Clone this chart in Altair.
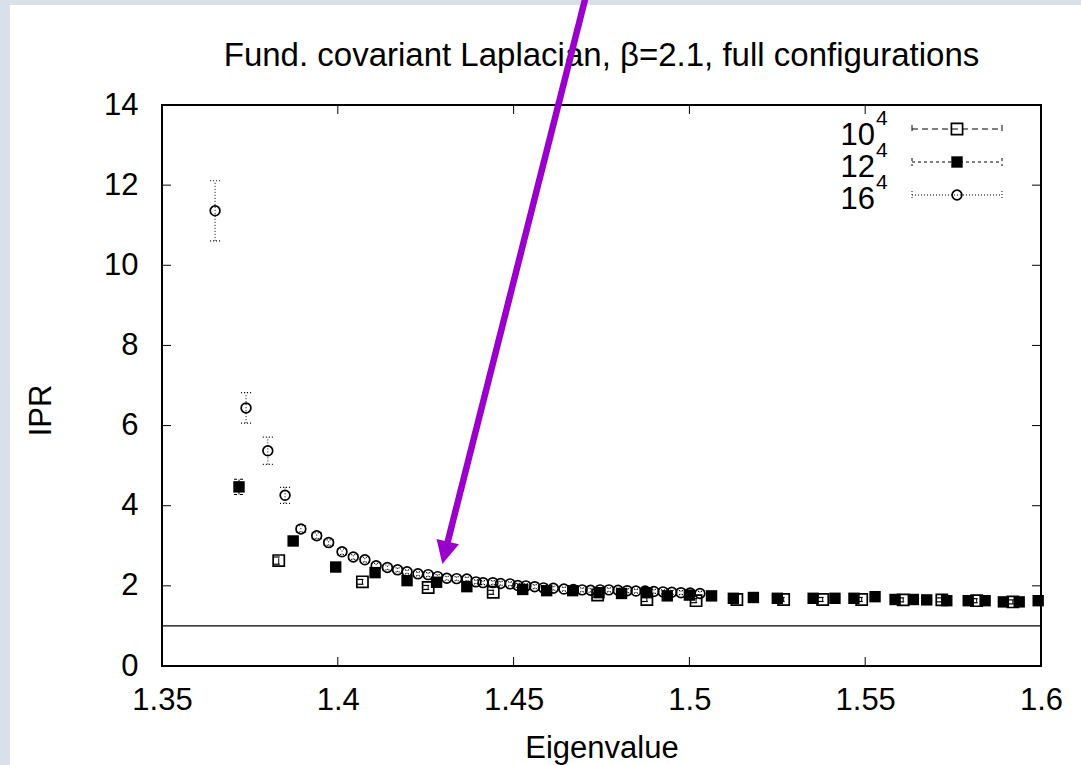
import altair as alt
import pandas as pd

FONT = "Liberation Sans"
INK = "black"
ARROW = "#9900cc"
W, H = 879, 561

# ---- measured inverse participation ratios -------------------------------
# 16^4 lattice
ev16 = [1.3651, 1.3739, 1.3801, 1.3850, 1.3895, 1.3940, 1.3974, 1.4012, 1.4044, 1.4077,
        1.4109, 1.4141, 1.4170, 1.4197, 1.4228, 1.4257, 1.4284, 1.4310, 1.4338, 1.4367,
        1.4393, 1.4413, 1.4441, 1.4463, 1.4490, 1.4512, 1.4535, 1.4560, 1.4585, 1.4613,
        1.4643, 1.4670, 1.4695, 1.4719, 1.4746, 1.4771, 1.4797, 1.4823, 1.4848, 1.4874,
        1.4899, 1.4925, 1.4950, 1.4976, 1.5002, 1.5030]
ipr16 = [11.36, 6.44, 5.37, 4.26, 3.42, 3.25, 3.08, 2.85, 2.72, 2.65,
         2.50, 2.46, 2.40, 2.35, 2.30, 2.28, 2.23, 2.19, 2.18, 2.17,
         2.10, 2.08, 2.08, 2.06, 2.05, 2.01, 2.00, 1.98, 1.95, 1.94,
         1.92, 1.91, 1.90, 1.89, 1.90, 1.90, 1.89, 1.88, 1.87, 1.87,
         1.86, 1.85, 1.84, 1.83, 1.82, 1.81]
err16 = [0.75, 0.38, 0.34, 0.20, 0.08, 0.07, 0.07, 0.07, 0.06, 0.06,
         0.06, 0.06, 0.05, 0.05, 0.05, 0.05, 0.05, 0.05, 0.05, 0.05,
         0.05, 0.05, 0.05, 0.05, 0.05, 0.05, 0.05, 0.05, 0.05, 0.05,
         0.05, 0.05, 0.05, 0.05, 0.05, 0.05, 0.05, 0.05, 0.05, 0.05,
         0.05, 0.05, 0.05, 0.05, 0.05, 0.05]

# 12^4 lattice
ev12 = [1.3719, 1.3873, 1.3994, 1.4106, 1.4197, 1.4281, 1.4367, 1.4526, 1.4594, 1.4668,
        1.4743, 1.4807, 1.4879, 1.4937, 1.5000, 1.5063, 1.5125, 1.5182, 1.5250, 1.5352,
        1.5414, 1.5468, 1.5528, 1.5585, 1.5637, 1.5675, 1.5732, 1.5793, 1.5841, 1.5893,
        1.5938, 1.5992]
ipr12 = [4.47, 3.12, 2.47, 2.33, 2.13, 2.09, 1.98, 1.91, 1.88, 1.88,
         1.83, 1.81, 1.83, 1.75, 1.77, 1.75, 1.69, 1.71, 1.69, 1.69,
         1.69, 1.69, 1.73, 1.66, 1.66, 1.65, 1.63, 1.63, 1.63, 1.60,
         1.60, 1.63]
err12 = [0.19, 0.07, 0.06, 0.06, 0.06, 0.06, 0.05, 0.05, 0.05, 0.05,
         0.05, 0.05, 0.05, 0.05, 0.05, 0.05, 0.05, 0.05, 0.05, 0.05,
         0.05, 0.05, 0.05, 0.05, 0.05, 0.05, 0.05, 0.05, 0.05, 0.05,
         0.05, 0.05]

# 10^4 lattice
ev10 = [1.3832, 1.4070, 1.4257, 1.4442, 1.4739, 1.4879, 1.5019, 1.5135, 1.5268, 1.5379,
        1.5490, 1.5608, 1.5718, 1.5817, 1.5920]
ipr10 = [2.63, 2.10, 1.96, 1.84, 1.77, 1.66, 1.63, 1.66, 1.66, 1.66,
         1.66, 1.65, 1.65, 1.63, 1.60]
err10 = [0.09, 0.06, 0.05, 0.05, 0.05, 0.05, 0.05, 0.05, 0.05, 0.05,
         0.05, 0.05, 0.05, 0.05, 0.05]

legend_bases = ["10", "12", "16"]
legend_exp = "4"

x_ticks = [1.35, 1.40, 1.45, 1.50, 1.55, 1.60]
y_ticks = [0, 2, 4, 6, 8, 10, 12, 14]
ref_level = 1.0

title_text = "Fund. covariant Laplacian, \u03b2=2.1, full configurations"

# arrow annotation (eigenvalue, IPR): tail, end of shaft, head centre
arrow_ev = [1.4710, 1.4312]
arrow_ipr = [16.87, 3.08]
head_ev = 1.4305
head_ipr = 2.825

# ---- scales and axes ------------------------------------------------------
xs = alt.Scale(domain=[1.35, 1.6], nice=False, zero=False)
ys = alt.Scale(domain=[0, 14], nice=False, zero=False)

x_axis = alt.Axis(values=x_ticks, format=".2~f", ticks=False, tickSize=0, domain=False,
                  grid=False, labelFont=FONT, labelFontSize=31, labelColor=INK,
                  labelPadding=19, labelFlush=False, labelOverlap=False,
                  titleFont=FONT, titleFontSize=31, titleFontWeight="normal",
                  titleColor=INK, titleY=91, titleBaseline="alphabetic", zindex=1)
y_axis = alt.Axis(values=y_ticks, ticks=False, tickSize=0, domain=False, grid=False,
                  labelFont=FONT, labelFontSize=31, labelColor=INK, labelPadding=24,
                  labelFlush=False, labelOverlap=False,
                  titleFont=FONT, titleFontSize=31, titleFontWeight="normal",
                  titleColor=INK, titleAngle=270, titleX=-121, titleY=305,
                  titleAlign="center", titleBaseline="middle", zindex=1)


def X(field):
    return alt.X(f"{field}:Q", scale=xs, axis=x_axis, title="Eigenvalue")


def Y(field):
    return alt.Y(f"{field}:Q", scale=ys, axis=y_axis, title="IPR")


CAP = "M-1,0L1,0"
HEAD = "M0,1L-1,-1L1,-1Z"
one = pd.DataFrame({"k": [0]})


def series(ev, ipr, err, dash, shape, filled, size, sw):
    df = pd.DataFrame({
        "ev": ev, "ipr": ipr,
        "lo": [v - e for v, e in zip(ipr, err)],
        "hi": [v + e for v, e in zip(ipr, err)],
    })
    base = alt.Chart(df)
    bars = base.mark_rule(color=INK, strokeWidth=1, strokeDash=dash).encode(
        x=X("ev"), y=Y("lo"), y2="hi")
    caps = [base.mark_point(shape=CAP, size=100, filled=False, stroke=INK,
                            strokeWidth=1.2, strokeDash=dash, opacity=1).encode(
        x=X("ev"), y=Y(f)) for f in ("lo", "hi")]
    if filled:
        pts = base.mark_point(shape=shape, size=size, filled=True, color=INK,
                              opacity=1, strokeWidth=0)
    else:
        pts = base.mark_point(shape=shape, size=size, filled=False, color=INK,
                              opacity=1, strokeWidth=sw)
    return [bars] + caps + [pts.encode(x=X("ev"), y=Y("ipr"))]


def legend_row(i, label, dash, shape, filled, size, sw):
    src = alt.Chart(one)
    ly = 24 + 33 * i
    line = src.mark_rule(color=INK, strokeWidth=1, strokeDash=dash).encode(
        x=alt.value(750), x2=alt.value(840), y=alt.value(ly))
    ends = [src.mark_rule(color=INK, strokeWidth=1, strokeDash=dash).encode(
        x=alt.value(cx), y=alt.value(ly - 4), y2=alt.value(ly + 4)) for cx in (750, 840)]
    if filled:
        mk = src.mark_point(shape=shape, size=size, filled=True, color=INK,
                            opacity=1, strokeWidth=0)
    else:
        mk = src.mark_point(shape=shape, size=size, filled=False, color=INK,
                            opacity=1, strokeWidth=sw)
    mk = mk.encode(x=alt.value(795), y=alt.value(ly))
    txt = src.mark_text(text=label, align="right", baseline="alphabetic", font=FONT,
                        fontSize=31, color=INK).encode(
        x=alt.value(713), y=alt.value(40 + 32 * i))
    sup = src.mark_text(text=legend_exp, align="left", baseline="alphabetic", font=FONT,
                        fontSize=21, color=INK).encode(
        x=alt.value(714), y=alt.value(20 + 32 * i))
    return [line] + ends + [mk, txt, sup]


styles = {
    "10": dict(dash=[6, 4], shape="square", filled=False, size=125, sw=1.7),
    "12": dict(dash=[3, 3], shape="square", filled=True, size=130, sw=1.7),
    "16": dict(dash=[1, 2], shape="circle", filled=False, size=95, sw=1.7),
}

layers = []

# white panel over the textured page background
layers.append(alt.Chart(one).mark_rect(color="white").encode(
    x=alt.value(-152), x2=alt.value(W + 40), y=alt.value(-100), y2=alt.value(H + 99)))

# reference level IPR = 1
layers.append(alt.Chart(pd.DataFrame({"lvl": [ref_level]})).mark_rule(
    color=INK, strokeWidth=1.2).encode(y=Y("lvl"), x=alt.value(0), x2=alt.value(W)))

# inward ticks on all four sides
xt = alt.Chart(pd.DataFrame({"t": x_ticks}))
yt = alt.Chart(pd.DataFrame({"t": y_ticks}))
layers.append(xt.mark_rule(color=INK, strokeWidth=1).encode(
    x=X("t"), y=alt.value(H), y2=alt.value(H - 9)))
layers.append(xt.mark_rule(color=INK, strokeWidth=1).encode(
    x=X("t"), y=alt.value(0), y2=alt.value(9)))
layers.append(yt.mark_rule(color=INK, strokeWidth=1).encode(
    y=Y("t"), x=alt.value(0), x2=alt.value(9)))
layers.append(yt.mark_rule(color=INK, strokeWidth=1).encode(
    y=Y("t"), x=alt.value(W), x2=alt.value(W - 9)))

# data series
layers += series(ev10, ipr10, err10, **styles["10"])
layers += series(ev12, ipr12, err12, **styles["12"])
layers += series(ev16, ipr16, err16, **styles["16"])

# key
for i, lab in enumerate(legend_bases):
    layers += legend_row(i, lab, **styles[lab])

# plot title
layers.append(alt.Chart(one).mark_text(
    text=title_text, align="center", baseline="alphabetic", font=FONT, fontSize=33,
    color=INK).encode(x=alt.value(W / 2), y=alt.value(-39)))

# frame
layers.append(alt.Chart(one).mark_rect(fillOpacity=0, stroke=INK, strokeWidth=2).encode(
    x=alt.value(0), x2=alt.value(W), y=alt.value(0), y2=alt.value(H)))

# arrow
layers.append(alt.Chart(pd.DataFrame({"ev0": [arrow_ev[0]], "ipr0": [arrow_ipr[0]],
                                      "ev1": [arrow_ev[1]], "ipr1": [arrow_ipr[1]]}))
              .mark_rule(color=ARROW, strokeWidth=6.5).encode(
    x=X("ev0"), y=Y("ipr0"), x2="ev1", y2="ipr1"))
layers.append(alt.Chart(pd.DataFrame({"ev": [head_ev], "ipr": [head_ipr]}))
              .mark_point(shape=HEAD, size=529, filled=True, color=ARROW, opacity=1,
                          strokeWidth=0, angle=13.6).encode(x=X("ev"), y=Y("ipr")))

chart = alt.layer(*layers).properties(
    width=W, height=H,
    padding={"left": 162, "top": 105, "right": 40, "bottom": 99},
    autosize=alt.AutoSizeParams(type="none"),
    background="#d9e0ea",
).configure_view(strokeWidth=0)

chart.save("out.html", embed_options={"renderer": "svg", "actions": False})
